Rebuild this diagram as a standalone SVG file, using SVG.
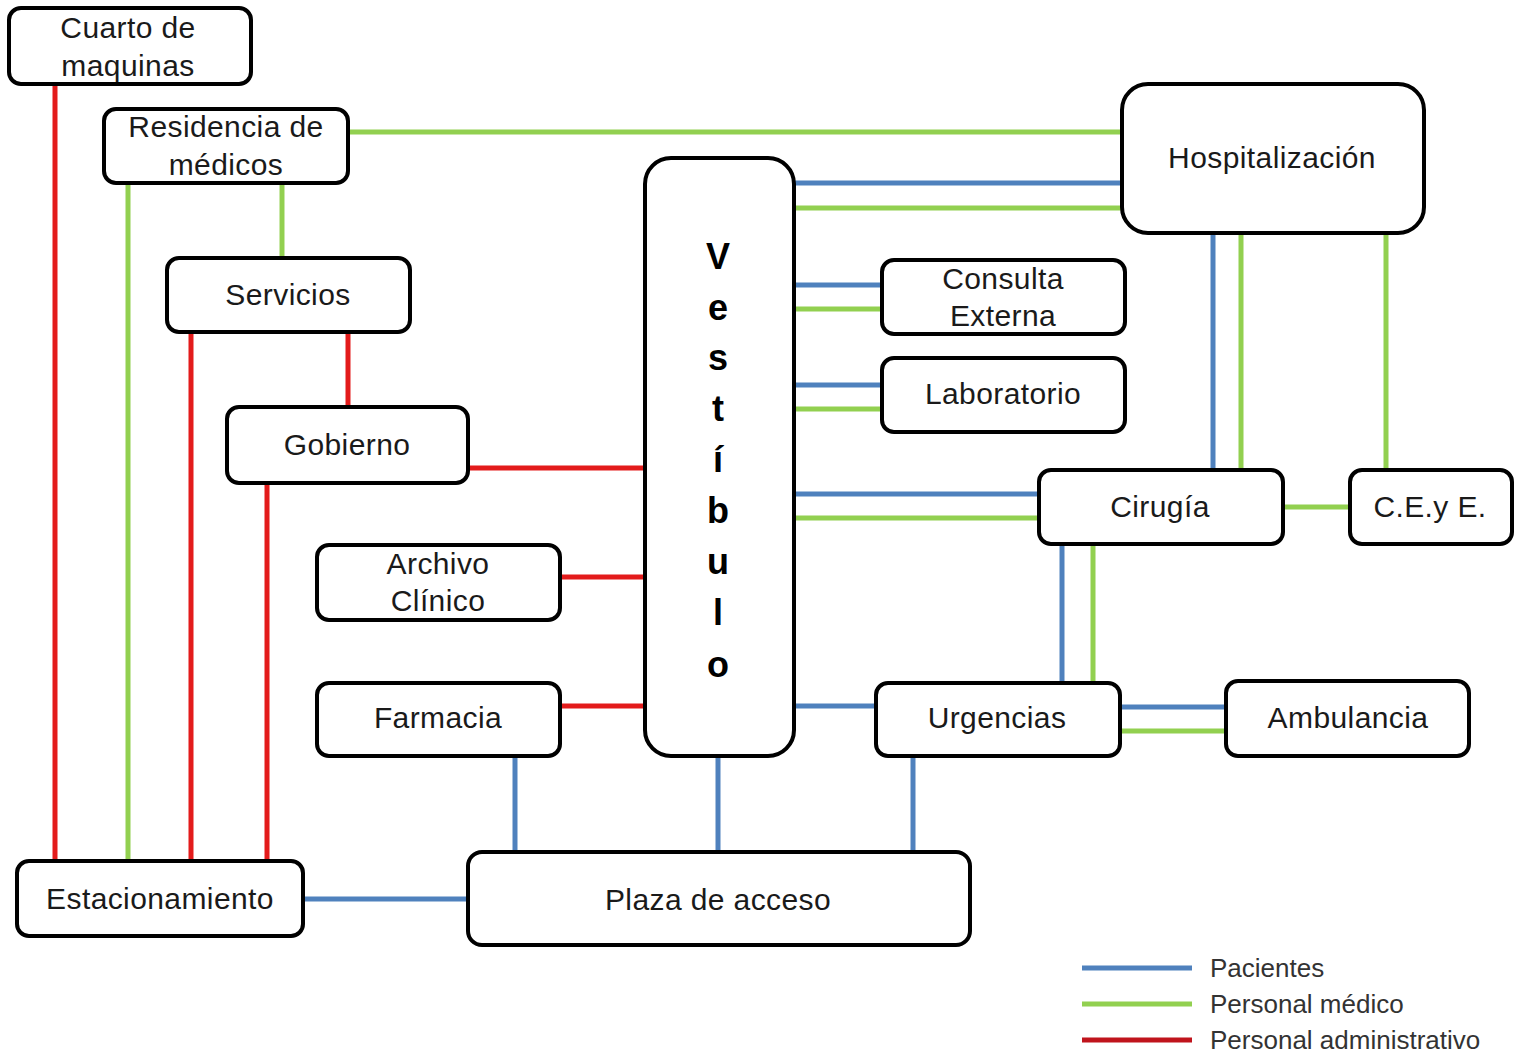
<svg xmlns="http://www.w3.org/2000/svg" width="1522" height="1054" viewBox="0 0 1522 1054">
<style>
.n rect{fill:#fff;stroke:#000;stroke-width:4}
.n text{font-family:"Liberation Sans",Arial,sans-serif;font-size:30px;letter-spacing:0.4px;fill:#1a1a1a;text-anchor:middle}
.v text{font-weight:bold;font-size:36px;letter-spacing:0;fill:#000}
.c line{stroke-width:5;stroke-linecap:butt}
.r{stroke:#e31b1b}
.g{stroke:#92d050}
.b{stroke:#4f81bd}
.lg text{font-family:"Liberation Sans",Arial,sans-serif;font-size:26px;fill:#333}
</style>
<rect width="1522" height="1054" fill="#fff"/>
<g class="c" id="connectors">
<line class="r" x1="55" y1="84" x2="55" y2="861"/>
<line class="r" x1="191" y1="332" x2="191" y2="861"/>
<line class="r" x1="348" y1="332" x2="348" y2="407"/>
<line class="r" x1="267" y1="483" x2="267" y2="861"/>
<line class="r" x1="468" y1="468" x2="645" y2="468"/>
<line class="r" x1="560" y1="577" x2="645" y2="577"/>
<line class="r" x1="560" y1="706" x2="645" y2="706"/>
<line class="g" x1="348" y1="132" x2="1122" y2="132"/>
<line class="g" x1="128" y1="183" x2="128" y2="861"/>
<line class="g" x1="282" y1="183" x2="282" y2="258"/>
<line class="g" x1="794" y1="208" x2="1122" y2="208"/>
<line class="g" x1="794" y1="309" x2="882" y2="309"/>
<line class="g" x1="794" y1="409" x2="882" y2="409"/>
<line class="g" x1="794" y1="518" x2="1039" y2="518"/>
<line class="g" x1="1241" y1="233" x2="1241" y2="470"/>
<line class="g" x1="1386" y1="233" x2="1386" y2="470"/>
<line class="g" x1="1283" y1="507" x2="1350" y2="507"/>
<line class="g" x1="1093" y1="544" x2="1093" y2="683"/>
<line class="g" x1="1120" y1="731" x2="1226" y2="731"/>
<line class="b" x1="794" y1="183" x2="1122" y2="183"/>
<line class="b" x1="794" y1="285" x2="882" y2="285"/>
<line class="b" x1="794" y1="385" x2="882" y2="385"/>
<line class="b" x1="794" y1="494" x2="1039" y2="494"/>
<line class="b" x1="1213" y1="233" x2="1213" y2="470"/>
<line class="b" x1="1062" y1="544" x2="1062" y2="683"/>
<line class="b" x1="794" y1="706" x2="876" y2="706"/>
<line class="b" x1="1120" y1="707" x2="1226" y2="707"/>
<line class="b" x1="515" y1="756" x2="515" y2="852"/>
<line class="b" x1="718" y1="756" x2="718" y2="852"/>
<line class="b" x1="913" y1="756" x2="913" y2="852"/>
<line class="b" x1="303" y1="899" x2="468" y2="899"/>
</g>
<g class="n" id="cuarto"><rect x="9" y="8" width="242" height="76" rx="12"/><text x="128" y="38">Cuarto de</text><text x="128" y="76">maquinas</text></g>
<g class="n" id="residencia"><rect x="104" y="109" width="244" height="74" rx="12"/><text x="226" y="137">Residencia de</text><text x="226" y="175">médicos</text></g>
<g class="n" id="servicios"><rect x="167" y="258" width="243" height="74" rx="12"/><text x="288" y="305">Servicios</text></g>
<g class="n" id="gobierno"><rect x="227" y="407" width="241" height="76" rx="12"/><text x="347" y="455">Gobierno</text></g>
<g class="n" id="archivo"><rect x="317" y="545" width="243" height="75" rx="12"/><text x="438" y="574">Archivo</text><text x="438" y="611">Clínico</text></g>
<g class="n" id="farmacia"><rect x="317" y="683" width="243" height="73" rx="12"/><text x="438" y="728">Farmacia</text></g>
<g class="n v" id="vestibulo"><rect x="645" y="158" width="149" height="598" rx="26"/>
<text x="718" y="269">V</text><text x="718" y="320">e</text><text x="718" y="370">s</text><text x="718" y="421">t</text><text x="718" y="472">í</text><text x="718" y="523">b</text><text x="718" y="574">u</text><text x="718" y="625">l</text><text x="718" y="677">o</text></g>
<g class="n" id="hospitalizacion"><rect x="1122" y="84" width="302" height="149" rx="26"/><text x="1272" y="168">Hospitalización</text></g>
<g class="n" id="consulta"><rect x="882" y="260" width="243" height="74" rx="12"/><text x="1003" y="289">Consulta</text><text x="1003" y="326">Externa</text></g>
<g class="n" id="laboratorio"><rect x="882" y="358" width="243" height="74" rx="12"/><text x="1003" y="404">Laboratorio</text></g>
<g class="n" id="cirugia"><rect x="1039" y="470" width="244" height="74" rx="12"/><text x="1160" y="517">Cirugía</text></g>
<g class="n" id="ceye"><rect x="1350" y="470" width="162" height="74" rx="12"/><text x="1430" y="517">C.E.y E.</text></g>
<g class="n" id="urgencias"><rect x="876" y="683" width="244" height="73" rx="12"/><text x="997" y="728">Urgencias</text></g>
<g class="n" id="ambulancia"><rect x="1226" y="681" width="243" height="75" rx="12"/><text x="1348" y="728">Ambulancia</text></g>
<g class="n" id="estacionamiento"><rect x="17" y="861" width="286" height="75" rx="12"/><text x="160" y="909">Estacionamiento</text></g>
<g class="n" id="plaza"><rect x="468" y="852" width="502" height="93" rx="14"/><text x="718" y="910">Plaza de acceso</text></g>
<g class="lg" id="legend">
<line x1="1082" y1="968" x2="1192" y2="968" stroke="#4f81bd" stroke-width="5"/>
<line x1="1082" y1="1004" x2="1192" y2="1004" stroke="#92d050" stroke-width="5"/>
<line x1="1082" y1="1040" x2="1192" y2="1040" stroke="#c0141c" stroke-width="5"/>
<text x="1210" y="977">Pacientes</text>
<text x="1210" y="1013">Personal médico</text>
<text x="1210" y="1049">Personal administrativo</text>
</g>
</svg>
